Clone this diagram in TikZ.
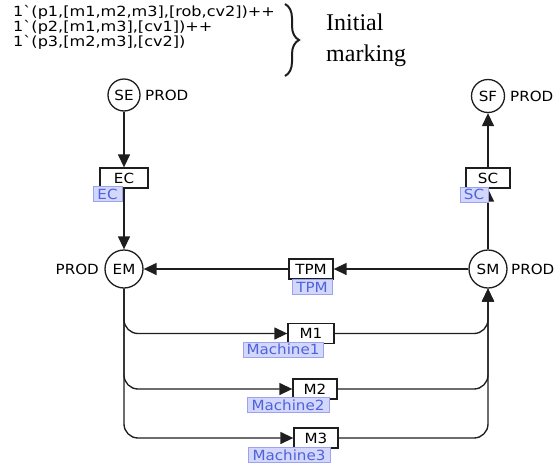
\documentclass[tikz,border=0pt]{standalone}
\usepackage{fontspec}
\setmainfont{Liberation Serif}
\newfontfamily\cpn[FakeStretch=1.08,Ligatures=TeXOff]{DejaVu Sans}
\newfontfamily\cpnwide[FakeStretch=1.15,Ligatures=TeXOff]{DejaVu Sans}
\usetikzlibrary{arrows.meta,decorations.pathreplacing}
\definecolor{lblfill}{HTML}{D3D7FB}
\definecolor{lbldraw}{HTML}{9AA3F0}
\definecolor{lbltext}{HTML}{4F63DB}
\definecolor{ink}{HTML}{1E1E1E}
\pgfdeclarelayer{background}
\pgfsetlayers{background,main}
\begin{document}
\begin{tikzpicture}[x=1pt,y=-1pt,
  cpnfont/.style={font=\cpn\fontsize{14}{14}\selectfont},
  place/.style={circle,draw=ink,line width=1.3pt,fill=white,inner sep=0pt,cpnfont},
  trans/.style={rectangle,draw=ink,line width=1.3pt,fill=white,inner sep=0pt,minimum height=20pt,cpnfont},
  lbl/.style={rectangle,draw=lbldraw,fill=lblfill,text=lbltext,inner sep=0pt,minimum height=15pt,cpnfont},
  arc/.style={draw=ink,line width=1.35pt,-{Triangle[length=13pt,width=12pt]}},
  branch/.style={arc,rounded corners=14pt},
  typ/.style={cpnfont,inner sep=0pt}]
\useasboundingbox (0,0) rectangle (555,464);

% initial marking
\node[anchor=west,align=left,font=\cpnwide\fontsize{14}{13}\selectfont,inner sep=0pt] (mk) at (13,27)
  {1`(p1,[m1,m2,m3],[rob,cv2])++\\1`(p2,[m1,m3],[cv1])++\\1`(p3,[m2,m3],[cv2])};
\draw[ink,line width=2pt,decorate,decoration={brace,amplitude=14pt}] (285,4) -- (285,76);
\node[anchor=north west,align=left,font=\fontsize{24}{31}\selectfont,inner sep=0pt] (im) at (326,14) {Initial\\marking};

% places
\node[place,minimum size=32pt] (SE) at (124,95) {SE};
\node[place,minimum size=33pt] (SF) at (488,96) {SF};
\node[place,minimum size=38pt] (EM) at (124,269) {EM};
\node[place,minimum size=38pt] (SM) at (488,269) {SM};
\node[typ,anchor=west] (SEt) at (145,95) {PROD};
\node[typ,anchor=west] (SFt) at (510,96) {PROD};
\node[typ,anchor=east] (EMt) at (99,269) {PROD};
\node[typ,anchor=west] (SMt) at (511,269) {PROD};

% transitions
\node[trans,minimum width=48pt] (EC) at (124,178) {EC};
\node[trans,minimum width=44pt] (SC) at (488,178) {SC};
\node[trans,minimum width=44pt] (TPM) at (311,269) {TPM};
\node[trans,minimum width=46pt] (M1) at (311,333.5) {M1};
\node[trans,minimum width=44pt] (M2) at (315,389) {M2};
\node[trans,minimum width=44pt] (M3) at (316,438) {M3};

% labels
\node[lbl,minimum width=29pt] (ECl) at (107.5,194) {EC};
\node[lbl,minimum width=28pt] (SCl) at (474,194.5) {SC};
\node[lbl,minimum width=40pt] (TPMl) at (312,287) {TPM};
\node[lbl,minimum width=80pt] (M1l) at (283,349.5) {Machine1};
\node[lbl,minimum width=82pt] (M2l) at (288,405) {Machine2};
\node[lbl,minimum width=82pt] (M3l) at (289,455) {Machine3};

\begin{pgfonlayer}{background}
\draw[arc] (SE) -- (EC);
\draw[arc] (EC) -- (EM);
\draw[arc] (SM) -- (SC);
\draw[arc] (SC) -- (SF);
\draw[arc] (SM) -- (TPM);
\draw[arc] (TPM) -- (EM);
\draw[branch] (EM.south) |- (M1.west);
\draw[branch] (EM.south) |- (M2.west);
\draw[branch] (EM.south) |- (M3.west);
\draw[branch] (M1.east) -| (SM.south);
\draw[branch] (M2.east) -| (SM.south);
\draw[branch] (M3.east) -| (SM.south);
\end{pgfonlayer}
\end{tikzpicture}
\end{document}
